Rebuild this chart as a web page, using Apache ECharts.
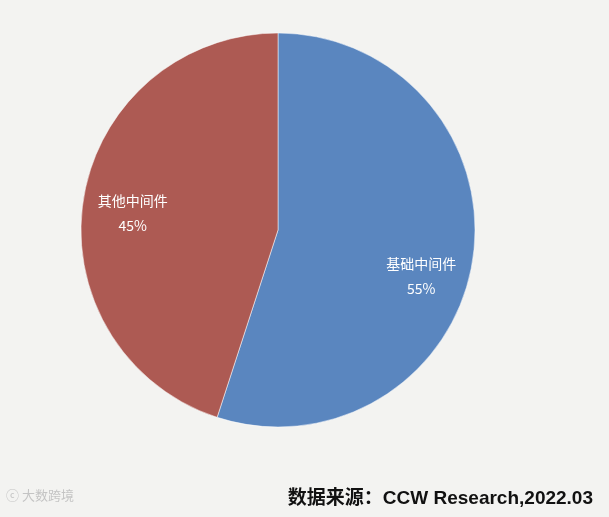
<!DOCTYPE html>
<html><head><meta charset="utf-8">
<script src="https://cdn.jsdelivr.net/npm/echarts@6/dist/echarts.min.js"></script>
<style>html,body{margin:0;padding:0;background:#f3f3f1;}#c{width:609px;height:517px;}</style>
</head><body><div id="c"></div>
<script>
const categories = ['基础中间件', '其他中间件'];
const values = [55, 45];
const sourceText = '数据来源：CCW Research,2022.03';
const watermark = '大数跨境';

const colors = ['#5a86bf', '#ad5a53'];
const offsets = [[43, 30], [-45, -1]];
const chart = echarts.init(document.getElementById('c'));
chart.setOption({
  backgroundColor: '#f3f3f1',
  animation: false,
  series: [{
    type: 'pie',
    center: [278, 230],
    radius: 197,
    startAngle: 90,
    clockwise: true,
    itemStyle: { borderColor: 'rgba(255,255,255,0.5)', borderWidth: 1 },
    label: {
      show: true, position: 'inside', color: '#fff', fontSize: 14, lineHeight: 25,
      fontFamily: 'Noto Sans CJK SC',
      formatter: p => p.name + '\n' + p.value + '%'
    },
    labelLine: { show: false },
    data: categories.map((c, i) => ({
      name: c, value: values[i],
      itemStyle: { color: colors[i] },
      label: { offset: offsets[i] }
    }))
  }],
  graphic: [
    { type: 'text', right: 16, top: 489, style: { text: sourceText, fontSize: 19, fontWeight: 'bold', fill: '#111', fontFamily: 'Liberation Sans, Noto Sans CJK SC' } },
    { type: 'text', left: 6, top: 489, style: { text: 'ⓒ ' + watermark, fontSize: 13, fill: '#c4c4c4', fontFamily: 'Noto Sans CJK SC' } }
  ]
});
</script></body></html>
